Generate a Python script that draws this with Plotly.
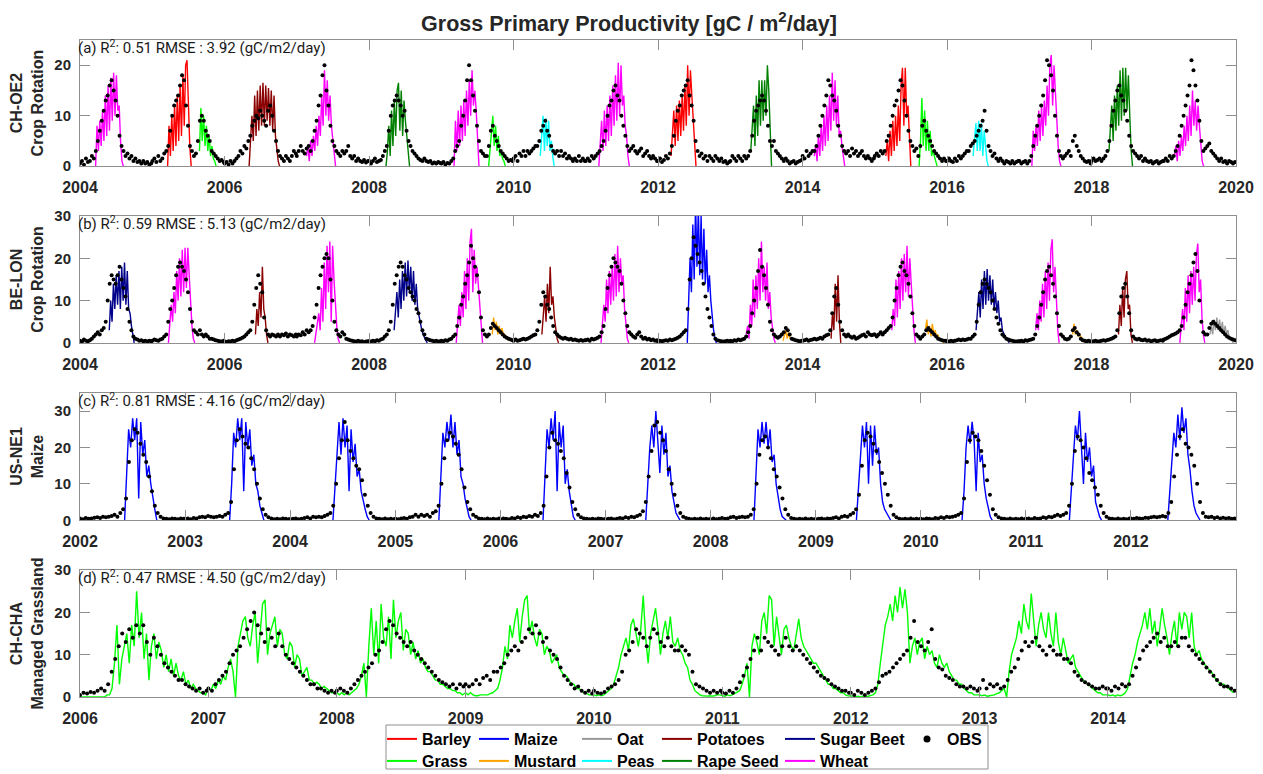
import datetime as dt
import plotly.graph_objects as go

# ------------------------------------------------------------------ data
# Panel (a) CH-OE2 crop rotation: model seasons (values every 7 days from start)
a_crops = ["Wheat", "Barley", "Grass", "Potatoes", "Wheat", "Rape Seed", "Wheat", "Grass", "Peas", "Wheat",
           "Barley", "Rape Seed", "Wheat", "Barley", "Grass", "Peas", "Wheat", "Rape Seed", "Wheat"]
a_starts = ["2004-03-20", "2005-03-19", "2005-08-27", "2006-05-05", "2007-02-19", "2008-03-27", "2009-03-06",
            "2009-08-28", "2010-05-16", "2011-03-08", "2012-03-07", "2013-04-14", "2014-03-01", "2015-02-26",
            "2015-08-13", "2016-05-12", "2017-03-05", "2018-03-30", "2019-02-24"]
a_vals = [
    [0, 8, 3, 9, 4, 11, 5, 14, 6, 16, 7, 17.5, 9, 18.5, 10, 18, 11, 12, 5, 1, 0],
    [0, 8, 2, 10, 3, 12, 4, 14, 5, 16, 6, 18, 8, 20, 21, 10, 4, 0],
    [3, 11.5, 5, 10, 4, 8, 3, 6, 2, 4, 1.5, 1, 0],
    [0, 4, 10, 5, 14, 6, 15, 7, 16, 8, 16.5, 8, 16, 9, 15.5, 8, 15, 7, 14, 6, 3, 1, 0],
    [2, 4, 1, 5, 2, 6, 3, 8, 4, 10, 6, 14, 8, 19, 10, 17, 9, 14, 8, 5, 2, 0],
    [0, 3, 8, 2, 11, 4, 13, 6, 15, 16.5, 7, 15, 6, 13, 9, 6, 3, 0],
    [0, 9, 3, 11, 4, 12, 5, 13, 6, 15, 8, 17, 10, 19, 12, 15, 11, 6, 0],
    [0, 4, 8, 10, 4, 8, 3, 6, 2, 3, 1.5, 1, 0],
    [2, 6, 10, 3, 9.5, 4, 9, 3, 5, 2, 0],
    [0, 6, 9, 3, 11, 4, 12, 5, 14, 6, 16, 8, 18, 9, 20.5, 10, 20, 12, 14, 8, 6, 2, 0],
    [2, 8, 11, 4, 12, 5, 13, 6, 14, 7, 16, 8, 20, 10, 19, 14, 9, 4, 0],
    [3, 9, 12, 4, 14, 6, 17, 8, 17, 9, 17, 10, 20, 15, 6, 0],
    [2, 4, 1, 6, 2, 8, 3, 10, 4, 12, 5, 14, 7, 18.5, 9, 17, 8, 14, 6, 7, 4, 2, 0],
    [2, 5, 1, 7, 2, 9, 3, 10, 4, 12, 5, 16, 19.5, 8, 19.5, 10, 12, 6, 0],
    [0, 5, 13.5, 4, 11, 3, 9, 3, 7, 2, 3, 2, 1, 0],
    [2, 6, 8.5, 3, 9, 3, 8.5, 2, 7, 4, 1, 0],
    [0, 7, 3, 8, 4, 11, 5, 12, 6, 13, 8, 16, 10, 20, 22, 12, 20, 14, 8, 4, 1, 0],
    [3, 8, 12, 5, 14, 7, 16, 8, 19, 9, 19.5, 10, 19.5, 11, 18, 10, 3, 0],
    [2, 4, 1, 5, 2, 6, 3, 8, 4, 10, 5, 12, 6, 15, 8, 13, 7, 12, 8, 4, 1, 0],
]
# observations, every 10 days from 1 January of each year
obs_a_years = [2004, 2005, 2006, 2007, 2008, 2009, 2010, 2011, 2012, 2013, 2014, 2015, 2016, 2017, 2018, 2019]
obs_a = [
    [0.5, 1, 0.3, 1.5, 0.8, 1, 2, 1.5, 3, 5, 7, 9, 11, 13, 14, 16, 17, 15, 13, 10, 6, 4, 3, 2, 2.5, 1.5, 2, 1, 1.5, 0.8, 1, 0.5, 1, 0.5, 0.8, 0.3, 0.5],
    [1, 1.5, 0.8, 2, 1, 1.5, 2.5, 3, 4, 7, 10, 12, 13, 14, 16, 18, 17, 12, 8, 4, 3, 2, 2.5, 5, 9, 10, 9, 7, 6, 5, 3, 2.5, 2, 1.5, 1, 1.2, 0.8],
    [0.5, 0.8, 0.3, 1, 0.5, 1, 1.5, 2, 3, 2.5, 4, 3.5, 5, 6, 8, 9, 10, 9.5, 11, 10, 9, 8, 11, 12, 10, 7, 5, 3, 2, 1.5, 1, 2, 1.5, 1, 2, 3, 2.5],
    [2, 3, 4, 3, 2.5, 3.5, 4, 3, 5, 7, 9, 12, 14, 18, 20, 15, 12, 8, 5, 4, 3, 2.5, 2, 3, 2.5, 3, 4, 2, 1.5, 2, 1, 1.5, 1, 0.8, 1.2, 0.7, 1],
    [1, 0.5, 1, 1.5, 0.8, 1, 1.2, 2, 3, 4, 7, 10, 12, 13, 14, 13, 12, 10, 11, 7, 5, 4, 3, 2.5, 2, 1.5, 1.2, 1, 1.5, 1, 0.8, 1, 0.5, 0.7, 0.5, 0.8, 0.6],
    [0.5, 0.8, 0.3, 0.6, 0.5, 1, 1.5, 3, 4, 5, 8, 10, 13, 17, 20, 17, 14, 11, 8, 5, 3, 2.5, 2, 2, 4, 7, 8, 6, 5, 4, 3, 2.5, 2, 1.5, 1, 1.2, 1],
    [1.5, 2, 1, 2.5, 2, 3, 2, 3, 2.5, 3, 3.5, 4, 4, 5, 7, 8, 9, 7, 6, 4, 3, 2.5, 3, 2, 3, 2, 2.5, 1.5, 2, 1.5, 1, 1.5, 1, 2, 1, 1.5, 1],
    [1, 1.5, 1, 2, 1.5, 2, 2.5, 3, 4, 5, 7, 10, 12, 13, 15, 16, 14, 13, 10, 8, 6, 4, 3, 3.5, 4, 3, 2.5, 3, 3.5, 2, 2.5, 3, 2, 1.5, 2, 1.5, 1],
    [1, 1.5, 0.8, 1.2, 2, 1.5, 2.5, 4, 6, 9, 11, 12, 14, 15, 16, 17, 14, 12, 9, 5, 3, 2, 2.5, 1.5, 2, 1, 2, 1.5, 1, 2, 1.5, 1, 1.5, 0.8, 1, 0.5, 0.8],
    [1, 2, 1.5, 1, 2, 1.5, 1, 2, 1.5, 2, 3, 6, 9, 11, 12, 13, 14, 13, 11, 8, 5, 4, 5, 3, 2.5, 2, 1.5, 1, 1.5, 1, 0.5, 0.8, 1, 0.5, 0.8, 1, 1.2],
    [2, 1.5, 3, 2, 2.5, 3, 3, 4, 6, 8, 10, 12, 14, 17, 16, 14, 13, 11, 8, 6, 4, 3, 2.5, 3, 2, 3.5, 2.5, 3, 2, 2.5, 3, 2, 1.5, 2, 1.5, 1, 1.5],
    [2, 2.5, 2, 3, 2.5, 3, 5, 6, 8, 10, 12, 13, 15, 17, 16, 13, 10, 7, 5, 4, 3, 3.5, 2, 4, 8, 9, 7, 6, 5, 4, 3, 2.5, 2, 1.5, 1, 1.5, 1],
    [1, 1.5, 1, 0.8, 1.5, 1, 2, 1.5, 2, 2.5, 3, 3, 4, 4.5, 5, 6, 7, 8, 9, 11, 7, 4, 3, 2, 2.5, 1.5, 1, 1.5, 1, 0.5, 1, 0.8, 0.5, 1, 0.5, 0.8, 1],
    [1, 0.5, 0.8, 1, 0.5, 1, 2, 4, 6, 8, 10, 12, 14, 17, 21, 20, 18, 15, 10, 6, 3, 2, 1.5, 2, 2.5, 3, 2, 5, 6, 4, 3, 2, 1.5, 1, 0.8, 1, 0.5],
    [1, 1.5, 1, 1.2, 1.5, 1, 1.5, 2, 3, 5, 8, 11, 13, 15, 16, 14, 13, 11, 9, 6, 4, 3, 2.5, 2, 1.5, 2, 1, 1.5, 1, 0.8, 1, 0.5, 0.8, 1, 0.5, 0.8, 1],
    [1, 1.5, 1, 2, 1.5, 2, 3, 4, 6, 8, 10, 12, 14, 16, 21, 19, 16, 13, 9, 5, 3, 3.5, 4, 4.5, 3, 2.5, 2, 1.5, 1, 1.5, 0.8, 1, 0.5, 1, 0.8, 0.5, 0.8],
]

# Panel (b) BE-LON crop rotation
b_crops = ["Sugar Beet", "Wheat", "Potatoes", "Wheat", "Sugar Beet", "Wheat", "Mustard", "Potatoes", "Wheat",
           "Maize", "Wheat", "Mustard", "Potatoes", "Wheat", "Mustard", "Sugar Beet", "Wheat", "Mustard",
           "Potatoes", "Wheat", "Oat"]
b_starts = ["2004-05-28", "2005-03-23", "2006-06-06", "2007-04-01", "2008-05-07", "2009-03-17", "2009-09-15",
            "2010-05-24", "2011-03-19", "2012-05-28", "2013-03-22", "2013-09-24", "2014-05-25", "2015-03-28",
            "2015-09-14", "2016-05-27", "2017-03-24", "2017-09-27", "2018-05-17", "2019-03-23", "2019-08-22"]
b_vals = [
    [3, 10, 5, 14, 8, 16, 9, 17, 8, 18, 10, 19, 9, 17, 8, 7, 4, 2, 0],
    [0, 4, 9, 5, 12, 7, 17, 10, 20, 11, 22, 12, 22.5, 13, 22.5, 16, 9, 4, 1, 0],
    [2, 8, 4, 12, 6, 18, 8, 6, 2, 0],
    [0, 2, 4, 7, 3, 13, 5, 19, 8, 23, 12, 24, 5, 23, 15, 9, 4, 1, 0],
    [3, 8, 12, 6, 15, 8, 17, 10, 19, 11, 19.5, 12, 18, 10, 17, 9, 14, 8, 6, 4, 3, 2, 1, 0.5, 0],
    [0, 5, 9, 4, 12, 6, 17, 8, 20, 10, 24, 27, 12, 22, 14, 18, 13, 8, 3, 0],
    [2, 6, 3, 5, 2, 4, 2, 3.5, 2, 2, 1.5, 1, 0.5],
    [2, 6, 11, 5, 14, 7, 18, 9, 11, 6, 3, 1, 0],
    [0, 4, 9, 5, 15, 7, 17, 9, 18, 10, 21, 11, 23, 12, 20, 14, 16, 8, 4, 1, 0],
    [0, 8, 20, 12, 28, 15, 33, 18, 32, 16, 30, 15, 27, 14, 22, 12, 16, 10, 6, 3, 1, 0],
    [2, 4, 1, 9, 4, 15, 6, 16, 8, 20, 10, 24, 12, 18, 10, 19, 8, 12, 6, 3, 1, 0],
    [0.5, 2, 3, 1, 2.5, 1, 1, 0.5],
    [1, 7, 3, 14, 5, 16, 5, 0],
    [3, 8, 4, 15, 6, 17, 8, 20, 10, 21, 12, 23, 11, 20, 14, 8, 3, 0],
    [3, 5.5, 2, 4, 1.5, 4.5, 2, 3, 1.5, 2, 1, 0.8, 0.5, 0],
    [3, 8, 12, 6, 15, 8, 17, 9, 17.5, 10, 16, 9, 15, 8, 12, 7, 10, 5, 6, 3, 2, 1.5, 1, 0.5, 0],
    [3, 7, 3, 10, 5, 14, 6, 17, 8, 19, 10, 22, 24.5, 12, 18, 10, 3, 0],
    [2, 4.5, 2, 3, 1.5, 2, 1.5, 1, 0.5, 0],
    [2, 9, 4, 13, 6, 15, 17, 8, 9, 2, 0],
    [0, 4, 8, 3, 13, 5, 16, 7, 17, 9, 18, 10, 21, 23.5, 12, 15, 6, 2, 0],
    [2, 4, 2, 5.5, 3, 6, 3, 5.5, 2.5, 5, 2, 4, 2, 3, 1.5, 1, 0.5, 0],
]
obs_b_years = [2004, 2005, 2006, 2007, 2008, 2009, 2010, 2011, 2012, 2013, 2014, 2015, 2016, 2017, 2018, 2019]
obs_b = [
    [0.5, 0.3, 0.8, 0.5, 0.4, 0.6, 1, 1.5, 2, 2.5, 2, 3, 3.5, 5, 10, 14, 16, 15, 14, 16, 18, 15, 13, 11, 8, 5, 3, 1.5, 1, 0.8, 0.5, 0.6, 0.4, 0.5, 0.3, 0.5, 0.4],
    [0.5, 0.8, 0.6, 0.5, 0.8, 1, 1.5, 2, 5, 8, 10, 13, 16, 18, 19, 18, 17, 15, 12, 8, 5, 3, 2.5, 2, 3, 2, 1.5, 2, 1.5, 1, 1, 0.8, 0.6, 0.5, 0.4, 0.3, 0.5],
    [0.3, 0.2, 0.4, 0.3, 0.5, 0.4, 0.6, 0.8, 1, 1.2, 1.5, 2, 2.5, 3, 5, 9, 13, 16, 14, 12, 6, 3, 2, 1.5, 2, 1.8, 1.5, 2, 1.5, 2, 1.8, 2.2, 1.5, 2, 1.8, 1.5, 2],
    [1.5, 2, 1.8, 2.5, 2, 3, 2.5, 3, 4, 6, 9, 13, 16, 18, 20, 21, 20, 15, 10, 5, 3, 2, 1.5, 2.5, 2, 1, 0.8, 0.6, 0.5, 0.4, 0.3, 0.5, 0.3, 0.4, 0.2, 0.3, 0.4],
    [0.4, 0.3, 0.5, 0.4, 0.6, 0.5, 0.8, 1, 1.5, 2, 3, 5, 9, 14, 16, 18, 19, 18, 16, 15, 13, 12, 11, 10, 8, 7, 5, 3, 2, 1, 0.8, 0.6, 0.5, 0.4, 0.5, 0.3, 0.4],
    [0.5, 0.4, 0.6, 0.5, 0.8, 1, 1.5, 2, 4, 6, 9, 11, 14, 16, 19, 23, 20, 18, 16, 12, 6, 3, 2, 1.5, 2, 3.5, 4.5, 4, 3.5, 3, 2.5, 2, 1.5, 1.2, 1, 0.8, 0.6],
    [0.5, 0.8, 0.5, 0.6, 0.8, 1, 0.8, 1, 1.2, 1.5, 1.8, 2, 3, 5, 9, 12, 11, 9, 8, 6, 4, 2.5, 2, 1.5, 1.2, 1, 1.2, 1, 0.8, 1, 0.7, 0.8, 0.6, 0.5, 0.7, 0.5, 0.6],
    [0.6, 0.8, 0.5, 1, 0.8, 1, 1.2, 1.5, 2.5, 4, 8, 13, 16, 18, 20, 19, 18, 17, 14, 10, 7, 4, 2.5, 2, 1.5, 1.2, 2, 2.5, 1.5, 1, 1.2, 0.8, 1, 0.6, 0.8, 0.5, 0.6],
    [0.3, 0.5, 0.4, 0.5, 0.6, 0.5, 0.8, 0.6, 0.8, 1, 1.2, 1.5, 2, 2.5, 3, 8, 15, 20, 25, 23, 21, 19, 17, 14, 11, 8, 6, 4, 2, 1, 0.6, 0.5, 0.4, 0.3, 0.4, 0.5, 0.3],
    [0.5, 0.4, 0.6, 0.5, 0.8, 0.6, 0.8, 1, 1.5, 2.5, 4, 7, 10, 13, 17, 22, 18, 16, 13, 9, 5, 3, 2, 1.5, 1.2, 1.5, 2, 2.5, 3.5, 3, 2, 1, 0.8, 0.6, 0.5, 0.4, 0.5],
    [0.5, 0.6, 0.8, 0.5, 0.7, 0.8, 1, 0.8, 1, 1.2, 1, 1.5, 1.8, 2, 3, 7, 11, 13, 9, 5, 3, 2, 1.5, 2, 1.5, 1.2, 1.5, 1, 1.2, 1.5, 1.8, 2, 1.5, 2.5, 2, 1.8, 2],
    [2, 1.5, 2, 2.5, 2, 2.5, 3, 3.5, 4, 6, 10, 13, 16, 18, 19, 17, 16, 14, 11, 7, 4, 2, 1.5, 1, 1.5, 2, 3, 3.5, 3, 2.5, 2, 1.5, 1, 0.8, 0.6, 0.5, 0.5],
    [0.4, 0.3, 0.5, 0.4, 0.5, 0.6, 0.8, 0.6, 0.8, 0.7, 0.8, 1, 1, 1.5, 2, 5, 9, 12, 14, 15, 14, 13, 12, 10, 8, 6, 4.5, 3, 2, 1.5, 1, 0.8, 0.6, 0.5, 0.4, 0.3, 0.4],
    [0.4, 0.5, 0.3, 0.6, 0.5, 0.7, 0.8, 1, 2, 4, 6, 9, 12, 15, 17, 18, 16, 14, 11, 7, 4, 2, 1.5, 1, 0.8, 1, 1.5, 3, 3.5, 2.5, 2, 1, 0.6, 0.5, 0.4, 0.5, 0.3],
    [0.3, 0.4, 0.5, 0.3, 0.4, 0.5, 0.6, 0.5, 0.7, 0.8, 1, 1.2, 1.5, 3, 7, 11, 13, 14, 11, 7, 3, 1.5, 1, 0.8, 1, 0.7, 0.6, 0.8, 0.5, 0.6, 0.4, 0.5, 0.6, 0.4, 0.5, 0.6, 0.5],
    [0.8, 1, 1.2, 1.5, 1.8, 2, 2.2, 2.5, 3, 4, 6, 9, 12, 14, 16, 19, 21, 17, 10, 5, 2.5, 2, 2, 3.5, 4.5, 5, 4.5, 4, 3.5, 3, 2.5, 2, 1.5, 1.2, 1, 0.8, 0.6],
]

# Panel (c) US-NE1 maize
c_crops = ["Maize"] * 11
c_starts = ["2002-06-05", "2003-06-05", "2004-05-29", "2005-06-01", "2006-05-29", "2007-05-21", "2008-05-31",
            "2009-05-22", "2010-05-24", "2011-06-01", "2012-05-08"]
c_vals = [
    [0, 12, 25, 20, 28, 22, 28, 6, 27, 18, 22, 12, 15, 10, 6, 3, 0],
    [0, 10, 24, 20, 28, 22, 28, 8, 27, 20, 25, 15, 18, 10, 8, 4, 2, 0],
    [0, 10, 18, 27, 18, 28, 20, 26, 8, 25, 16, 21, 12, 14, 8, 5, 3, 1, 0],
    [0, 12, 24, 20, 27, 22, 29, 20, 27, 18, 22, 12, 10, 6, 3, 1, 0],
    [0, 12, 25, 20, 28, 22, 30, 8, 27, 20, 26, 10, 14, 8, 4, 1, 0],
    [0, 10, 20, 26, 20, 30, 22, 13, 26, 18, 24, 12, 15, 8, 5, 2, 1, 0],
    [0, 15, 25, 20, 27, 21, 27, 20, 25, 16, 18, 10, 6, 3, 1, 0.5, 0],
    [0, 8, 18, 26, 20, 27, 10, 26, 15, 26, 18, 20, 10, 5, 3, 2, 1, 0],
    [0, 8, 20, 26, 21, 27, 22, 8, 24, 16, 18, 10, 6, 3, 1, 0],
    [0, 8, 18, 26, 22, 30, 20, 10, 24, 16, 20, 12, 15, 5, 3, 1, 0],
    [0, 8, 18, 24, 20, 29, 22, 31, 24, 28, 18, 14, 8, 4, 2, 1, 0],
]
obs_c_years = [2002, 2003, 2004, 2005, 2006, 2007, 2008, 2009, 2010, 2011, 2012]
obs_c = [
    [0.5, 0.3, 0.6, 0.4, 0.5, 0.7, 0.8, 0.6, 1, 0.8, 1, 1.2, 1.5, 1, 2, 3, 6, 16, 22, 25, 24, 21, 18, 16, 12, 8, 4, 2, 1, 0.5, 0.4, 0.3, 0.5, 0.4, 0.3, 0.5, 0.4],
    [0.4, 0.5, 0.3, 0.6, 0.5, 0.8, 1, 0.8, 1.2, 1, 0.8, 1, 1.2, 1, 1.5, 2, 5, 14, 22, 25, 23, 21, 20, 17, 14, 10, 6, 3, 1.5, 0.8, 0.5, 0.3, 0.4, 0.3, 0.5, 0.4, 0.3],
    [0.3, 0.4, 0.5, 0.3, 0.4, 0.6, 0.8, 0.5, 1, 0.8, 1, 0.8, 1.2, 1.5, 2, 4, 10, 17, 22, 27, 22, 19, 17, 15, 14, 11, 7, 4, 2, 1, 0.5, 0.4, 0.3, 0.5, 0.3, 0.4, 0.3],
    [0.4, 0.3, 0.5, 0.6, 0.4, 0.8, 1, 1.5, 1, 1.5, 1.2, 1.5, 1, 2, 2.5, 4, 10, 17, 22, 24, 23, 21, 18, 14, 9, 5, 3, 1.5, 1, 0.5, 0.4, 0.3, 0.5, 0.3, 0.4, 0.3, 0.5],
    [0.3, 0.5, 0.4, 0.3, 0.6, 0.5, 0.8, 0.6, 1, 0.8, 1.2, 1, 1.5, 1.2, 2, 4, 12, 20, 24, 22, 21, 19, 17, 13, 9, 5, 3, 1.5, 0.8, 0.5, 0.4, 0.3, 0.4, 0.3, 0.5, 0.4, 0.3],
    [0.3, 0.4, 0.5, 0.3, 0.4, 0.6, 0.5, 0.8, 0.6, 1, 0.8, 1.2, 1.5, 2.5, 5, 12, 19, 26, 27, 24, 22, 19, 14, 10, 7, 4, 2, 1, 0.6, 0.4, 0.3, 0.4, 0.3, 0.5, 0.3, 0.4, 0.3],
    [0.3, 0.5, 0.3, 0.4, 0.6, 0.4, 0.5, 0.8, 1, 0.6, 0.8, 1, 0.8, 1, 1.5, 3, 10, 18, 22, 23, 20, 17, 14, 12, 9, 6, 3, 1.5, 0.6, 0.4, 0.3, 0.4, 0.3, 0.5, 0.3, 0.4, 0.3],
    [0.3, 0.4, 0.5, 0.3, 0.5, 0.4, 0.6, 0.8, 0.5, 1, 1.2, 1, 1.5, 2, 3, 7, 15, 22, 24, 23, 21, 19, 16, 13, 10, 7, 4, 1.5, 0.8, 0.4, 0.3, 0.4, 0.3, 0.5, 0.3, 0.4, 0.3],
    [0.4, 0.3, 0.5, 0.4, 0.3, 0.6, 0.5, 0.8, 0.6, 1, 0.8, 1, 1.2, 1.5, 2, 6, 16, 22, 24, 23, 22, 19, 15, 11, 7, 3, 1.5, 0.8, 0.5, 0.4, 0.3, 0.5, 0.3, 0.4, 0.3, 0.5, 0.3],
    [0.4, 0.5, 0.3, 0.6, 0.4, 0.5, 0.8, 0.6, 1, 0.8, 1.2, 1.5, 1.2, 1.5, 2, 4, 10, 19, 23, 22, 20, 17, 13, 11, 9, 7, 4, 2, 1, 0.5, 0.4, 0.3, 0.5, 0.3, 0.4, 0.3, 0.5],
    [0.5, 0.4, 0.6, 0.5, 0.4, 0.7, 0.6, 0.8, 1, 0.8, 1, 1.2, 1, 2, 5, 12, 18, 23, 25, 21, 20, 18, 15, 10, 5, 2, 1, 0.8, 1, 0.6, 0.8, 0.5, 0.7, 0.5, 0.6, 0.4, 0.5],
]

# Panel (d) CH-CHA managed grassland: model weekly from 1 January of each year
d_years = [2006, 2007, 2008, 2009, 2010, 2011, 2012, 2013, 2014]
d_grass = [
    [0, 0, 0, 0, 0, 0, 0, 0, 0, 0, 0, 0.5, 0.5, 2, 8, 17, 3, 9, 12, 15, 8, 17, 12, 25, 14, 20, 9, 15, 4, 12, 15, 9, 13, 11, 7, 10, 6, 9, 5, 8, 5, 4, 6, 3, 4, 2, 3, 2, 1.5, 1, 1, 0.5],
    [2, 1.5, 3, 2, 4, 3, 5, 4, 7, 9, 6, 0, 12, 15, 18, 19, 14, 12, 17, 20, 8, 15, 22, 23, 10, 15, 17, 19, 12, 16, 15, 10, 9, 13, 12, 7, 10, 9, 5, 6, 7, 4, 4, 3, 3.5, 3, 2, 2.5, 2, 1.5, 1, 1],
    [1, 0.5, 1, 0.5, 1, 0.5, 1, 1.5, 2, 3, 5, 8, 0, 12, 21, 10, 18, 8, 22, 14, 12, 19, 9, 23, 14, 18, 20, 11, 16, 15, 10, 13, 9, 11, 8, 9, 7, 6, 6, 5, 4, 4, 3, 3, 2.5, 2, 2, 1.5, 1.5, 1, 1, 0.5],
    [1, 0.5, 1, 0.5, 0.3, 0.3, 0.5, 0.5, 0.5, 0.5, 0.8, 1, 1.5, 2, 4, 7, 12, 9, 17, 14, 18, 21, 13, 19, 23, 24, 15, 18, 14, 12, 16, 15, 10, 12, 11, 8, 9, 10, 7, 6, 5, 5, 4, 3, 3, 2, 2, 1.5, 1, 1, 0.5, 0.5],
    [0.5, 0.3, 0.5, 0.3, 0.5, 1, 1.5, 2, 3, 5, 7, 10, 12, 14, 11, 17, 18.5, 15, 12, 16, 24, 14, 8, 15, 18, 21, 16, 10, 15, 18, 14, 19, 13, 12, 14, 11, 10, 8, 7, 4, 3, 1.5, 1, 0.5, 0.3, 0.2, 0.2, 0.3, 0.2, 0.3, 0.5, 0.5],
    [0.3, 0.2, 0.5, 0.3, 0.5, 0.8, 1, 1.5, 3, 5, 8, 0, 12, 15, 13, 10, 18, 20, 15, 24, 23, 12, 19, 15, 10, 16, 17, 14, 12, 11, 15, 18.5, 14, 12, 11, 10, 9, 8, 8, 7, 6, 5, 4, 3, 3, 2, 2, 1.5, 1, 1, 0.5, 0.3],
    [0.3, 0.2, 0, 0.2, 0, 0.3, 0, 0.2, 0.3, 0.5, 1, 3, 8, 12, 17, 19, 22, 18, 24, 20, 26, 21, 25.5, 20, 8, 12, 14, 10, 13, 14, 9, 12, 10, 11, 8, 7, 10, 8, 7, 8, 6, 5, 4, 4, 3, 3, 2, 1.5, 1, 1, 0.5, 0.5],
    [0.5, 0.3, 0.5, 0.2, 0.3, 0.5, 0.5, 0.8, 1, 1.5, 2, 0, 6, 10, 12, 14, 18, 15, 22, 18, 16, 24.5, 18, 12, 17, 20, 16, 14, 20, 15, 12, 20, 13, 10, 14, 11, 8, 9, 10, 7, 6, 5, 4, 3.5, 3, 2.5, 2, 1.5, 1, 1, 0.5, 0.5],
    [0.5, 0.3, 0.5, 0.2, 0.5, 0.3, 0.5, 1, 2, 5, 8, 10, 13, 15, 17, 20, 16, 21, 15, 18, 12, 16, 21, 17, 14, 10, 15, 18, 12, 20, 16, 20, 19, 14, 20, 12, 10, 11, 9, 8, 7, 6.5, 6, 5, 4, 3.5, 3, 3, 2.5, 2, 1.5, 1],
]
obs_d_years = [2006, 2007, 2008, 2009, 2010, 2011, 2012, 2013, 2014]
obs_d = [
    [0.5, 1, 0.8, 1.2, 1, 1.5, 2, 1.5, 3, 6, 9, 12, 15, 13, 16, 14, 17, 15, 17, 13, 10, 14, 12, 10, 8, 7, 6, 5, 4, 4, 3, 2.5, 2, 1.5, 2, 1, 1.5],
    [2, 1.5, 3, 4, 5, 6, 8, 10, 11, 12, 14, 16, 18, 20, 17, 15, 13, 16, 14, 12, 15, 12, 10, 9, 8, 7, 6, 5, 4, 3, 3, 2, 2, 1.5, 1, 1.5, 1],
    [1.5, 2, 1.5, 1, 2, 3, 4, 5, 6, 7, 8, 10, 11, 13, 16, 18, 17, 15, 14, 13, 12, 13, 11, 10, 9, 8, 7, 6, 5, 4, 3.5, 3, 2.5, 3, 2, 3, 2.5],
    [3, 2.5, 3, 4, 3, 4.5, 5, 4, 6, 6, 7, 8, 10, 11, 12, 11, 13, 14, 16, 15, 17, 15, 13, 14, 11, 10, 9, 7, 5, 4, 3, 2, 2.5, 1.5, 1, 1.5, 0.8],
    [1.5, 1, 0.8, 1.2, 2, 2.5, 3, 4, 6, 10, 11, 13, 16, 15, 14, 12, 14, 16, 15, 13, 12, 14, 12, 11, 11, 12, 11, 10, 6, 3, 2.5, 2, 1.5, 1, 1.5, 1, 1.5],
    [1, 0.8, 1.5, 1, 2, 3.5, 5, 7, 9, 11, 14, 11, 14, 13, 12, 11, 10, 12, 14, 12, 11, 12, 11, 10, 9, 8, 7, 6, 5, 4.5, 4, 3, 2.5, 2, 1.5, 1.5, 1],
    [1, 0.5, 1.5, 1, 0.5, 1, 1.5, 2, 3.5, 5, 5.5, 6, 7, 8, 9, 10, 11, 14, 18, 13, 12, 11, 13, 16, 9, 7, 6.5, 5, 4.5, 4, 3, 2.5, 2.5, 2, 2.5, 2, 1.5],
    [2, 4, 2, 3, 2.5, 3, 2, 2.5, 4, 6, 7, 9, 11, 13, 12, 13, 14, 12, 11, 10, 12, 11, 10, 10, 9, 9, 8, 6, 5, 4, 3.5, 3, 2.5, 2, 2, 2.5, 2],
    [2, 1.5, 2.5, 2, 3, 2.5, 3, 5, 7, 9, 11, 12, 13, 14, 15, 13, 14, 12, 12, 13, 12, 14, 14, 12, 11, 10, 9, 8, 7, 6, 5, 4, 3, 2.5, 2.5, 2, 1.5],
]

# axis ticks / labels / texts
a_ticks = ["2004", "2006", "2008", "2010", "2012", "2014", "2016", "2018", "2020"]
c_ticks = ["2002", "2003", "2004", "2005", "2006", "2007", "2008", "2009", "2010", "2011", "2012"]
d_ticks = ["2006", "2007", "2008", "2009", "2010", "2011", "2012", "2013", "2014"]
site_titles = ["CH-OE2<br>Crop Rotation", "BE-LON<br>Crop Rotation", "US-NE1<br>Maize", "CH-CHA<br>Managed Grassland"]
stats_text = ["(a) R<sup>2</sup>: 0.51 RMSE : 3.92 (gC/m2/day)",
              "(b) R<sup>2</sup>: 0.59 RMSE : 5.13 (gC/m2/day)",
              "(c) R<sup>2</sup>: 0.81 RMSE : 4.16 (gC/m2/day)",
              "(d) R<sup>2</sup>: 0.47 RMSE : 4.50 (gC/m2/day)"]
legend_names = ["Barley", "Maize", "Oat", "Potatoes", "Sugar Beet", "OBS",
                "Grass", "Mustard", "Peas", "Rape Seed", "Wheat"]

# ------------------------------------------------------------------ styles / layout geometry
COLORS = {"Barley": "#FF0000", "Maize": "#0000FF", "Oat": "#999999", "Potatoes": "#8B0000",
          "Sugar Beet": "#00008B", "Grass": "#00FF00", "Mustard": "#FFA500", "Peas": "#00FFFF",
          "Rape Seed": "#008000", "Wheat": "#FF00FF"}
FONT = "Liberation Sans, Arial, sans-serif"
AX = "#8f8f8f"
TXT = "#262626"
LW = 1.4
OFF = 8                                   # the page draws the figure 8 px in from the corner
W, H = 1263 - OFF, 774 - OFF
PL, PR, PT, PB = 80 - OFF, 1236 - OFF, 40 - OFF, 697 - OFF   # plot area in figure pixels
PW, PH = PR - PL, PB - PT
# legend entries: (column x of the legend box, row top) in page pixels
LEG_COL_X = [382, 474, 577, 657, 780, 907, 382, 474, 577, 657, 780]
LEG_ROW_Y = [722, 722, 722, 722, 722, 722, 744, 744, 744, 744, 744]


def season_xy(crops, starts, vals, crop, step=7):
    xs, ys = [], []
    for c, s, v in zip(crops, starts, vals):
        if c != crop:
            continue
        d0 = dt.date.fromisoformat(s)
        xs += [d0 + dt.timedelta(days=step * i) for i in range(len(v))] + [None]
        ys += list(v) + [None]
    return xs, ys


def yearly_xy(years, vals, step):
    xs, ys = [], []
    for yr, v in zip(years, vals):
        d0 = dt.date(yr, 1, 1)
        xs += [d0 + dt.timedelta(days=step * i) for i in range(len(v))]
        ys += list(v)
    return xs, ys


fig = go.Figure()
panels = [
    (a_crops, a_starts, a_vals, obs_a_years, obs_a, "x", "y"),
    (b_crops, b_starts, b_vals, obs_b_years, obs_b, "x2", "y2"),
    (c_crops, c_starts, c_vals, obs_c_years, obs_c, "x3", "y3"),
]
for crops, starts, vals, oyears, ovals, xa, ya in panels:
    for crop in dict.fromkeys(crops):
        xs, ys = season_xy(crops, starts, vals, crop)
        fig.add_trace(go.Scatter(x=xs, y=ys, mode="lines", line=dict(color=COLORS[crop], width=LW),
                                 connectgaps=False, showlegend=False, xaxis=xa, yaxis=ya, hoverinfo="skip"))
    ox, oy = yearly_xy(oyears, ovals, 10)
    fig.add_trace(go.Scatter(x=ox, y=oy, mode="markers", marker=dict(color="black", size=4),
                             showlegend=False, xaxis=xa, yaxis=ya, hoverinfo="skip"))

gx, gy = yearly_xy(d_years, d_grass, 7)
fig.add_trace(go.Scatter(x=gx, y=gy, mode="lines", line=dict(color=COLORS["Grass"], width=LW),
                         showlegend=False, xaxis="x4", yaxis="y4", hoverinfo="skip"))
ox, oy = yearly_xy(obs_d_years, obs_d, 10)
fig.add_trace(go.Scatter(x=ox, y=oy, mode="markers", marker=dict(color="black", size=4),
                         showlegend=False, xaxis="x4", yaxis="y4", hoverinfo="skip"))

# legend: one single-entry legend per slot, laid out as a 6 + 5 grid
legend_layout = {}
for k, n in enumerate(legend_names):
    lname = "legend" if k == 0 else f"legend{k + 1}"
    if n == "OBS":
        fig.add_trace(go.Scatter(x=[None], y=[None], mode="markers", name=n,
                                 marker=dict(color="black", size=7), legend=lname))
    else:
        fig.add_trace(go.Scatter(x=[None], y=[None], mode="lines", name=n,
                                 line=dict(color=COLORS[n], width=2), legend=lname))
    legend_layout[lname] = dict(x=(LEG_COL_X[k] - OFF - PL) / PW, y=(PB - (LEG_ROW_Y[k] - OFF)) / PH,
                                xanchor="left", yanchor="top", orientation="v", bgcolor="rgba(0,0,0,0)",
                                borderwidth=0, font=dict(family=FONT, size=16, color="black", weight="bold"),
                                itemwidth=30)

axis_common = dict(showline=True, linecolor=AX, linewidth=1, mirror="ticks", ticks="inside", ticklen=10,
                   tickcolor=AX, tickwidth=1, showgrid=False, zeroline=False)
xfont = dict(family=FONT, size=16, color=TXT, weight="bold")
yfont = dict(family=FONT, size=15, color=TXT, weight="bold")

x_specs = [(a_ticks, "2004-01-01", "2020-01-01"), (a_ticks, "2004-01-01", "2020-01-01"),
           (c_ticks, "2002-01-01", "2012-12-31"), (d_ticks, "2006-01-01", "2014-12-31")]
y_specs = [([0, 10, 20], [0, 25], [0.808, 1.0]), ([0, 10, 20, 30], [0, 30], [0.539, 0.732]),
           ([0, 10, 20, 30], [0, 35], [0.269, 0.463]), ([0, 10, 20, 30], [0, 30], [0.0, 0.193])]

layout = dict(
    width=W, height=H, paper_bgcolor="white", plot_bgcolor="white",
    margin=dict(l=PL, r=W - PR, t=PT, b=H - PB, autoexpand=False),
    title=dict(text="Gross Primary Productivity [gC / m<sup>2</sup>/day]", x=(629 - OFF) / W, xref="container",
               y=1 - (23 - OFF) / H, yref="container", xanchor="center", yanchor="middle",
               font=dict(family=FONT, size=21.5, color=TXT, weight="bold")),
    showlegend=True,
)
for i in range(4):
    sx = "" if i == 0 else str(i + 1)
    ticks, r0, r1 = x_specs[i]
    yt, yr, dom = y_specs[i]
    layout["xaxis" + sx] = dict(axis_common, type="date", range=[r0, r1], anchor="y" + sx, domain=[0, 1],
                                tickvals=[f"{t}-01-01" for t in ticks], ticktext=ticks, tickfont=xfont,
                                ticklabelstandoff=7)
    layout["yaxis" + sx] = dict(axis_common, range=yr, anchor="x" + sx, domain=dom, tickvals=yt,
                                tickfont=yfont, ticklabelstandoff=5,
                                title=dict(text=site_titles[i], standoff=14,
                                           font=dict(family=FONT, size=16, color=TXT, weight="bold")))
layout.update(legend_layout)
fig.update_layout(**layout)

for i, txt in enumerate(stats_text):
    sx = "" if i == 0 else str(i + 1)
    fig.add_annotation(text=txt, xref=f"x{sx} domain", yref=f"y{sx} domain", x=0, y=1, xanchor="left",
                       yanchor="top", showarrow=False, xshift=-4, yshift=5,
                       font=dict(family="Roboto, Arial", size=15, color="#1a1a1a"))

# legend frame
fig.add_shape(type="rect", xref="paper", yref="paper",
              x0=(386 - OFF - PL) / PW, x1=(988 - OFF - PL) / PW,
              y0=(PB - (769 - OFF)) / PH, y1=(PB - (725 - OFF)) / PH, line=dict(color=AX, width=1),
              fillcolor="rgba(0,0,0,0)", layer="above")

fig.write_html("out.html")
